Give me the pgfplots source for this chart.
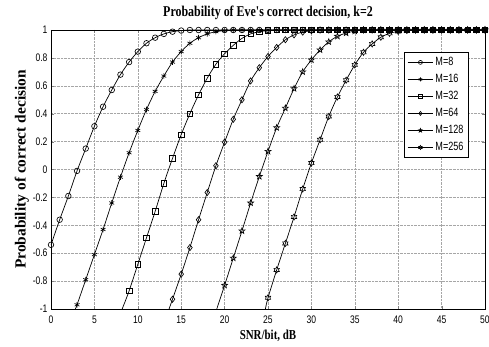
\documentclass[border=0pt]{standalone}
\usepackage{fontspec}
\usepackage{pgfplots}
\pgfplotsset{compat=1.18}
\newfontfamily\tickfont[FakeStretch=0.78]{Liberation Sans}
\newfontfamily\legfont[FakeStretch=0.76]{Liberation Sans}
\newfontfamily\labfont[FakeStretch=0.8]{Liberation Serif}
\newfontfamily\ylabfont{Liberation Serif}
\pgfdeclareplotmark{pentagram}{%
  \pgfpathmoveto{\pgfpointpolar{90}{\pgfplotmarksize}}%
  \pgfpathlineto{\pgfpointpolar{126}{0.42\pgfplotmarksize}}%
  \pgfpathlineto{\pgfpointpolar{162}{\pgfplotmarksize}}%
  \pgfpathlineto{\pgfpointpolar{198}{0.42\pgfplotmarksize}}%
  \pgfpathlineto{\pgfpointpolar{234}{\pgfplotmarksize}}%
  \pgfpathlineto{\pgfpointpolar{270}{0.42\pgfplotmarksize}}%
  \pgfpathlineto{\pgfpointpolar{306}{\pgfplotmarksize}}%
  \pgfpathlineto{\pgfpointpolar{342}{0.42\pgfplotmarksize}}%
  \pgfpathlineto{\pgfpointpolar{18}{\pgfplotmarksize}}%
  \pgfpathlineto{\pgfpointpolar{54}{0.42\pgfplotmarksize}}%
  \pgfpathclose\pgfusepathqstroke}
\pgfdeclareplotmark{hexagram}{%
  \pgfpathmoveto{\pgfpointpolar{90}{\pgfplotmarksize}}%
  \pgfpathlineto{\pgfpointpolar{120}{0.58\pgfplotmarksize}}%
  \pgfpathlineto{\pgfpointpolar{150}{\pgfplotmarksize}}%
  \pgfpathlineto{\pgfpointpolar{180}{0.58\pgfplotmarksize}}%
  \pgfpathlineto{\pgfpointpolar{210}{\pgfplotmarksize}}%
  \pgfpathlineto{\pgfpointpolar{240}{0.58\pgfplotmarksize}}%
  \pgfpathlineto{\pgfpointpolar{270}{\pgfplotmarksize}}%
  \pgfpathlineto{\pgfpointpolar{300}{0.58\pgfplotmarksize}}%
  \pgfpathlineto{\pgfpointpolar{330}{\pgfplotmarksize}}%
  \pgfpathlineto{\pgfpointpolar{0}{0.58\pgfplotmarksize}}%
  \pgfpathlineto{\pgfpointpolar{30}{\pgfplotmarksize}}%
  \pgfpathlineto{\pgfpointpolar{60}{0.58\pgfplotmarksize}}%
  \pgfpathclose\pgfusepathqstroke}
\pgfplotsset{
  ser/.style={black, solid, line width=0.7pt, smooth, mark size=2.8pt,
    mark options={solid, black, line width=0.65pt}},
}
\begin{document}
\begin{tikzpicture}
\begin{axis}[
  at={(0,0)}, anchor=south west,
  scale only axis, width=434bp, height=279bp,
  xmin=0, xmax=50, ymin=-1, ymax=1,
  xtick={0,5,...,50},
  xticklabels={0,5,10,15,20,25,30,35,40,45,50},
  ytick={-1,-0.8,-0.6,-0.4,-0.2,0,0.2,0.4,0.6,0.8,1},
  yticklabels={-1,-0.8,-0.6,-0.4,-0.2,0,0.2,0.4,0.6,0.8,1},
  tick label style={font=\tickfont\fontsize{11}{13}\selectfont},
  xticklabel style={yshift=-3bp},
  yticklabel style={xshift=0bp},
  tick align=inside,
  major tick length=3pt,
  grid=major,
  major grid style={densely dotted, gray!70, line width=0.5pt},
  axis line style={line width=0.9pt},
  title={\labfont\bfseries\fontsize{15}{17}\selectfont Probability of Eve's correct decision, k=2},
  title style={at={(0.5,1)}, anchor=south, yshift=1bp},
  xlabel={\labfont\bfseries\fontsize{13.7}{15}\selectfont SNR/bit, dB},
  ylabel={\ylabfont\bfseries\fontsize{15.5}{17}\selectfont Probability of correct decision},
  xlabel style={yshift=0bp},
  ylabel style={yshift=-3bp},
  legend style={at={(0.963,0.921)}, anchor=north east, draw=black, line width=0.9pt,
    font=\legfont\fontsize{12}{13}\selectfont, row sep=3.2pt, inner xsep=3pt, inner ysep=3pt},
  legend cell align=left,
  legend image code/.code={\draw[mark repeat=2,mark phase=2,line width=0.6pt,mark size=2pt] plot coordinates {(0cm,0cm) (0.45cm,0cm) (0.9cm,0cm)};},
]
\addplot[ser, mark=o] coordinates {
(0,-0.54) (1,-0.36) (2,-0.19) (3,-0.01) (4,0.15) (5,0.31) (6,0.45) (7,0.57) (8,0.68) (9,0.77)
(10,0.845) (11,0.905) (12,0.945) (13,0.972) (14,0.988) (15,0.996) (16,1) (17,1) (18,1) (19,1)
(20,1) (21,1) (22,1) (23,1) (24,1) (25,1) (26,1) (27,1) (28,1) (29,1) (30,1) (31,1) (32,1)
(33,1) (34,1) (35,1) (36,1) (37,1) (38,1) (39,1) (40,1) (41,1) (42,1) (43,1) (44,1) (45,1)
(46,1) (47,1) (48,1) (49,1) (50,1)};
\addlegendentry{M=8}
\addplot[ser, mark=asterisk, mark phase=2] coordinates {
(2.8,-1) (3,-0.97) (4,-0.79) (5,-0.61) (6,-0.43) (7,-0.24) (8,-0.055) (9,0.12) (10,0.28) (11,0.43)
(12,0.56) (13,0.67) (14,0.77) (15,0.845) (16,0.905) (17,0.945) (18,0.972) (19,0.988) (20,0.996)
(21,1) (22,1) (23,1) (24,1) (25,1) (26,1) (27,1) (28,1) (29,1) (30,1) (31,1) (32,1)
(33,1) (34,1) (35,1) (36,1) (37,1) (38,1) (39,1) (40,1) (41,1) (42,1) (43,1) (44,1) (45,1)
(46,1) (47,1) (48,1) (49,1) (50,1)};
\addlegendentry{M=16}
\addplot[ser, mark=square, mark phase=2] coordinates {
(8.2,-1) (9,-0.87) (10,-0.68) (11,-0.49) (12,-0.30) (13,-0.10) (14,0.08) (15,0.25) (16,0.40)
(17,0.535) (18,0.655) (19,0.755) (20,0.83) (21,0.89) (22,0.94) (23,0.972) (24,0.988) (25,0.996)
(26,1) (27,1) (28,1) (29,1) (30,1) (31,1) (32,1)
(33,1) (34,1) (35,1) (36,1) (37,1) (38,1) (39,1) (40,1) (41,1) (42,1) (43,1) (44,1) (45,1)
(46,1) (47,1) (48,1) (49,1) (50,1)};
\addlegendentry{M=32}
\addplot[ser, mark=diamond, mark size=3.1pt, mark phase=2] coordinates {
(13.6,-1) (14,-0.93) (15,-0.75) (16,-0.56) (17,-0.36) (18,-0.165) (19,0.027) (20,0.196) (21,0.36)
(22,0.50) (23,0.635) (24,0.73) (25,0.81) (26,0.875) (27,0.93) (28,0.965) (29,0.985) (30,0.995)
(31,1) (32,1)
(33,1) (34,1) (35,1) (36,1) (37,1) (38,1) (39,1) (40,1) (41,1) (42,1) (43,1) (44,1) (45,1)
(46,1) (47,1) (48,1) (49,1) (50,1)};
\addlegendentry{M=64}
\addplot[ser, mark=pentagram, mark size=3.1pt, mark phase=2] coordinates {
(19.1,-1) (20,-0.83) (21,-0.635) (22,-0.44) (23,-0.24) (24,-0.05) (25,0.13) (26,0.30) (27,0.44)
(28,0.58) (29,0.70) (30,0.786) (31,0.857) (32,0.915) (33,0.955) (34,0.978) (35,0.992)
(36,1) (37,1) (38,1) (39,1) (40,1) (41,1) (42,1) (43,1) (44,1) (45,1)
(46,1) (47,1) (48,1) (49,1) (50,1)};
\addlegendentry{M=128}
\addplot[ser, mark=hexagram, mark size=3.1pt, mark phase=2] coordinates {
(24.7,-1) (25,-0.92) (26,-0.72) (27,-0.53) (28,-0.34) (29,-0.14) (30,0.046) (31,0.213) (32,0.38)
(33,0.52) (34,0.64) (35,0.75) (36,0.84) (37,0.90) (38,0.948) (39,0.976) (40,0.99) (41,0.997)
(42,1) (43,1) (44,1) (45,1) (46,1) (47,1) (48,1) (49,1) (50,1)};
\addlegendentry{M=256}
\end{axis}
\pgfresetboundingbox
\path[use as bounding box] (-51bp,-38bp) rectangle (438bp,309bp);
\end{tikzpicture}
\end{document}
